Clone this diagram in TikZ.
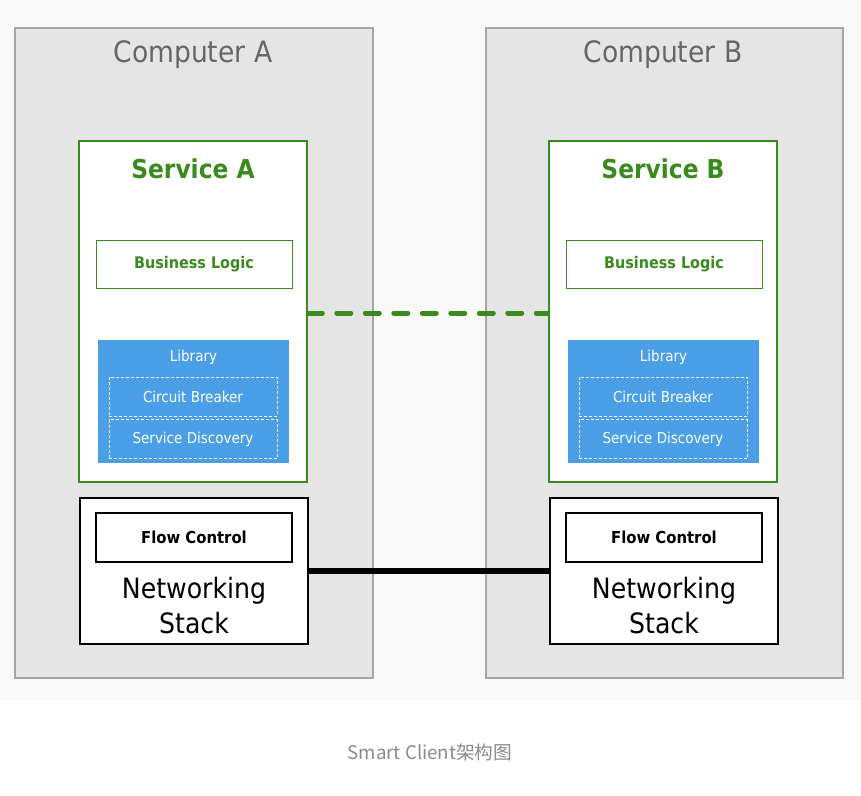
\documentclass[tikz,border=0pt]{standalone}
\usepackage{fontspec}
\setmainfont{DejaVu Sans Condensed}
\newfontfamily\cjk{Noto Sans CJK SC}
\definecolor{compfill}{HTML}{E5E5E5}
\definecolor{compline}{HTML}{A5A5A5}
\definecolor{comptext}{HTML}{666666}
\definecolor{svcgreen}{HTML}{3A8A1E}
\definecolor{libblue}{HTML}{4A9FE6}
\definecolor{captgray}{HTML}{8A8A8A}
\definecolor{pagebg}{HTML}{F9F9F9}
\tikzset{
  computer/.style={draw=compline, fill=compfill, line width=1.2pt, minimum width=#1, minimum height=650pt, inner sep=0pt},
  service/.style={draw=svcgreen, fill=white, line width=2.6pt, minimum width=228pt, minimum height=341pt, inner sep=0pt},
  bizbox/.style={draw=svcgreen, fill=white, line width=1pt, minimum width=196pt, minimum height=48pt, inner sep=0pt,
     text=svcgreen, font=\fontsize{16}{18}\selectfont\bfseries},
  libbox/.style={fill=libblue, minimum width=191pt, minimum height=123pt, inner sep=0pt},
  libpart/.style={draw=white, dashed, dash pattern=on 3pt off 2pt, line width=0.9pt, minimum width=168pt, minimum height=39pt, inner sep=0pt,
     text=white, font=\fontsize{15}{17}\selectfont},
  netbox/.style={draw=black, fill=white, line width=1.4pt, minimum width=228pt, minimum height=146pt, inner sep=0pt},
  flowbox/.style={draw=black, fill=white, line width=1.2pt, minimum width=196pt, minimum height=49pt, inner sep=0pt,
     font=\fontsize{16.5}{18}\selectfont\bfseries},
  comptitle/.style={text=comptext, font=\fontsize{29.5}{32}\selectfont},
  svctitle/.style={text=svcgreen, font=\fontsize{26}{30}\selectfont\bfseries},
  nettext/.style={align=center, font=\fontsize{28}{35}\selectfont},
  liblabel/.style={text=white, font=\fontsize{15}{17}\selectfont},
  soapline/.style={draw=svcgreen, line width=5pt, line cap=round, dash pattern=on 14pt off 14.5pt},
  wireline/.style={draw=black, line width=6pt}
}
\begin{document}
\begin{tikzpicture}[x=1pt,y=-1pt]
\useasboundingbox (0,0) rectangle (861,795);
\fill[pagebg] (0,0) rectangle (861,700);
\fill[white] (0,700) rectangle (861,795);
% Computers
\node[computer=358pt] (CA) at (194,353) {};
\node[computer=357pt] (CB) at (664.5,353) {};
\node[comptitle] (CAt) at (193,55) {Computer A};
\node[comptitle] (CBt) at (663,55) {Computer B};
% Services
\node[service] (SA) at (193,311.5) {};
\node[service] (SB) at (663,311.5) {};
\node[svctitle] (SAt) at (193,169) {Service A};
\node[svctitle] (SBt) at (663,169) {Service B};
\node[bizbox] (BLA) at (194,264) {Business Logic};
\node[bizbox] (BLB) at (664,264) {Business Logic};
\node[libbox] (LA) at (193.5,401.5) {};
\node[libbox] (LB) at (663.5,401.5) {};
\node[liblabel] (LAt) at (193.5,357) {Library};
\node[liblabel] (LBt) at (663.5,357) {Library};
\node[libpart] (CBA) at (193,396.5) {Circuit Breaker};
\node[libpart] (CBB) at (663,396.5) {Circuit Breaker};
\node[libpart] (SDA) at (193,439) {Service Discovery};
\node[libpart] (SDB) at (663,439) {Service Discovery};
% Networking
\node[netbox] (NA) at (194,571) {};
\node[netbox] (NB) at (664,571) {};
\node[flowbox] (FA) at (194,537.5) {Flow Control};
\node[flowbox] (FB) at (664,537.5) {Flow Control};
\node[nettext] (NAt) at (194,605.5) {Networking\\Stack};
\node[nettext] (NBt) at (664,605.5) {Networking\\Stack};
% Connectors
\draw[soapline] ([yshift=-1.5pt]SA.east) -- ([yshift=-1.5pt]SB.west);
\draw[wireline] (NA.east) -- (NB.west);
% Caption
\node[text=captgray, font=\cjk\fontsize{18.7}{22}\selectfont] (cap) at (430,752) {Smart Client架构图};
\end{tikzpicture}
\end{document}
